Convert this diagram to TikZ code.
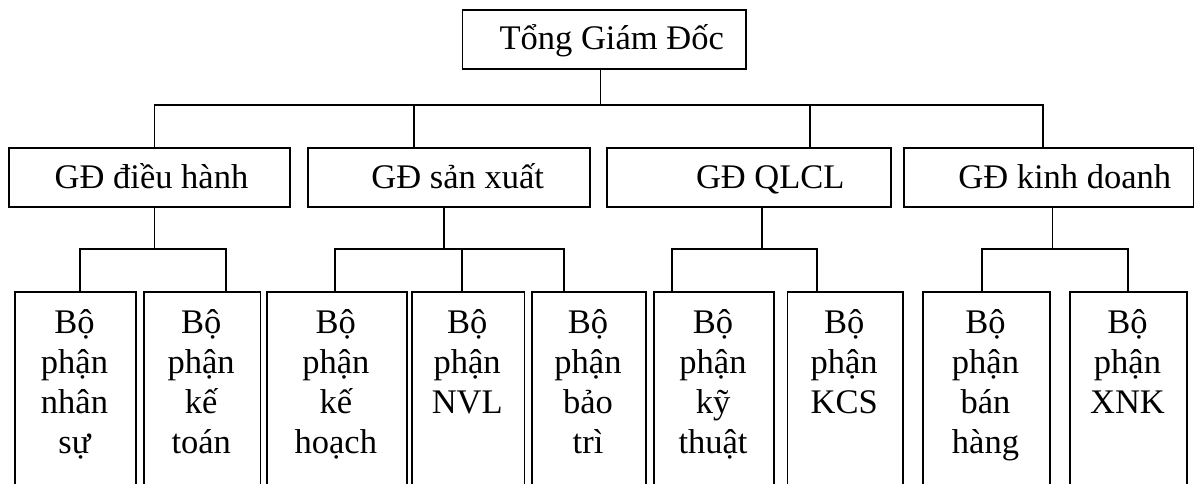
\documentclass[tikz,border=0pt]{standalone}
\usepackage{fontspec}
\setmainfont{Liberation Serif}
\tikzset{
  box/.style={draw, line width=1.9pt, inner sep=0pt, anchor=north west},
  conn/.style={line width=1.9pt, line join=miter},
  lbl/.style={font=\fontsize{34.5}{40}\selectfont, inner sep=0pt, anchor=base},
  lblm/.style={font=\fontsize{34.5}{40}\selectfont, inner sep=0pt, anchor=base, align=center, text width=110pt}
}
\newcommand\mkbox[5]{\node[box, minimum width=#4pt-#2pt, minimum height=#5pt-#3pt] (#1) at (#2,#3) {};}
\begin{document}
\begin{tikzpicture}[x=1pt,y=-1pt]
\useasboundingbox (0,0) rectangle (1194,484);
% top
\mkbox{top}{461.5}{9}{745}{68.5}
\node[lbl] (ttop) at (611.7,50) {Tổng Giám Đốc};
% level 2
\mkbox{ga}{8.3}{147}{288.7}{206}
\mkbox{gb}{306.7}{147}{589.3}{206}
\mkbox{gc}{606}{147}{889.7}{206}
\mkbox{gd}{903.3}{147}{1193}{206}
\node[lbl] (tga) at (151.5,189) {GĐ điều hành};
\node[lbl] (tgb) at (457.7,189) {GĐ sản xuất};
\node[lbl] (tgc) at (770.3,189) {GĐ QLCL};
\node[lbl] (tgd) at (1064.8,189) {GĐ kinh doanh};
% level 3
\mkbox{b1}{14}{291}{135}{487}
\mkbox{b2}{143}{291}{259.5}{487}
\mkbox{b3}{266}{291}{405.7}{487}
\mkbox{b4}{411}{291}{523.5}{487}
\mkbox{b5}{531}{291}{645}{487}
\mkbox{b6}{653}{291}{773}{487}
\mkbox{b7}{786.5}{291}{902}{487}
\mkbox{b8}{922}{291}{1049}{487}
\mkbox{b9}{1069}{291}{1186}{487}
\node[lblm] (t1) at (74.5,333) {Bộ\\phận\\nhân\\sự};
\node[lblm] (t2) at (201.2,333) {Bộ\\phận\\kế\\toán};
\node[lblm] (t3) at (335.8,333) {Bộ\\phận\\kế\\hoạch};
\node[lblm] (t4) at (467.2,333) {Bộ\\phận\\NVL};
\node[lblm] (t5) at (588,333) {Bộ\\phận\\bảo\\trì};
\node[lblm] (t6) at (713,333) {Bộ\\phận\\kỹ\\thuật};
\node[lblm] (t7) at (844.2,333) {Bộ\\phận\\KCS};
\node[lblm] (t8) at (985.5,333) {Bộ\\phận\\bán\\hàng};
\node[lblm] (t9) at (1127.5,333) {Bộ\\phận\\XNK};
% connectors top -> level 2
\coordinate (j0) at (600.5,105);
\coordinate (d1) at (154.5,105);
\coordinate (d2) at (414,105);
\coordinate (d3) at (809.7,105);
\coordinate (d4) at (1043,105);
\draw[conn] (top.south -| j0) -- (j0);
\draw[conn] (d1 |- ga.north) -- (d1) -- (d4) -- (d4 |- gd.north);
\draw[conn] (d2) -- (d2 |- gb.north);
\draw[conn] (d3) -- (d3 |- gc.north);
% level 2 -> level 3
\coordinate (ea) at (154.5,249);
\coordinate (a1) at (80,249);
\coordinate (a2) at (226,249);
\draw[conn] (ga.south -| ea) -- (ea);
\draw[conn] (a1 |- b1.north) -- (a1) -- (a2) -- (a2 |- b2.north);
\coordinate (eb) at (444,249);
\coordinate (c1) at (335,249);
\coordinate (c2) at (462,249);
\coordinate (c3) at (564,249);
\draw[conn] (gb.south -| eb) -- (eb);
\draw[conn] (c1 |- b3.north) -- (c1) -- (c3) -- (c3 |- b5.north);
\draw[conn] (c2) -- (c2 |- b4.north);
\coordinate (ec) at (762.3,249);
\coordinate (f1) at (672,249);
\coordinate (f2) at (817,249);
\draw[conn] (gc.south -| ec) -- (ec);
\draw[conn] (f1 |- b6.north) -- (f1) -- (f2) -- (f2 |- b7.north);
\coordinate (ed) at (1052.5,249);
\coordinate (h1) at (982,249);
\coordinate (h2) at (1128,249);
\draw[conn] (gd.south -| ed) -- (ed);
\draw[conn] (h1 |- b8.north) -- (h1) -- (h2) -- (h2 |- b9.north);
\end{tikzpicture}
\end{document}
